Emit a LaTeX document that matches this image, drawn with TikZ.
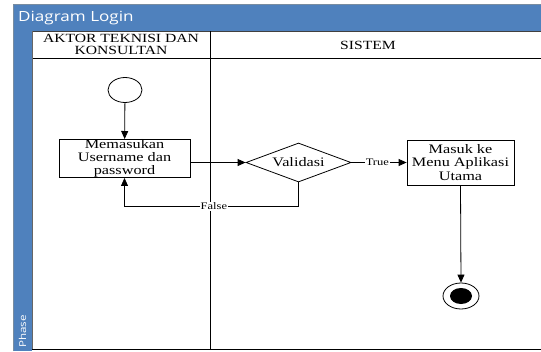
\documentclass[tikz,border=0pt]{standalone}
\usepackage{fontspec}
\setmainfont{Liberation Serif}[FakeStretch=1.25]
\newfontfamily\titlefont{Open Sans}[FakeStretch=1.22]
\usetikzlibrary{shapes.geometric,arrows.meta}
\definecolor{poolblue}{RGB}{79,129,189}
\definecolor{pooledge}{RGB}{120,140,160}
\tikzset{
  flow/.style={draw=black, line width=0.8pt, -{Triangle[length=8pt,width=7pt]}},
  actbox/.style={draw=black, line width=0.8pt, fill=white, align=center,
    inner sep=0pt, font=\fontsize{13}{13.2}\selectfont},
  lanetitle/.style={align=center, inner sep=0pt, font=\fontsize{12.5}{12.8}\selectfont},
  guard/.style={fill=white, inner sep=1pt, font=\fontsize{10}{10}\selectfont}
}
\begin{document}
\begin{tikzpicture}[x=1pt,y=-1pt]
\useasboundingbox (0,0) rectangle (541,351);
% pool: title bar and phase strip
\fill[poolblue] (13,4) rectangle (541,31);
\fill[poolblue] (13,31) rectangle (32,351);
\draw[pooledge, line width=0.6pt] (13,351) -- (13,4) -- (541,4);
\draw[black!75, line width=0.8pt] (32,31) -- (541,31);
\node[anchor=west, text=white, inner sep=0pt, font=\titlefont\fontsize{14}{14}\selectfont] (title) at (18,18) {Diagram Login};
\node[rotate=90, anchor=west, text=white, inner sep=0pt, font=\titlefont\fontsize{9.5}{9.5}\selectfont] (phase) at (22.5,348) {Phase};
% lanes
\fill[white] (32,31.5) rectangle (541,349);
\draw[black, line width=0.8pt] (32,58) -- (541,58);
\draw[black, line width=0.8pt] (32,349) -- (541,349);
\draw[black, line width=0.8pt] (210,31) -- (210,349);
\draw[black!60, line width=0.5pt] (32,31) -- (32,349);
\node[lanetitle] (lane1) at (121,44.5) {AKTOR TEKNISI DAN\\KONSULTAN};
\node[lanetitle] (lane2) at (368,45) {SISTEM};
% activity nodes
\node[ellipse, draw=black, line width=0.8pt, fill=white, minimum width=34pt, minimum height=25pt, inner sep=0pt] (start) at (125,90) {};
\node[actbox, minimum width=131pt, minimum height=37pt] (input) at (124.5,158.5) {Memasukan\\Username dan\\password};
\node[diamond, draw=black, line width=0.8pt, fill=white, aspect=2.7, minimum width=105pt, minimum height=39pt, inner sep=0pt, font=\fontsize{13}{13}\selectfont] (valid) at (298.5,162.5) {Validasi};
\node[actbox, minimum width=107pt, minimum height=45pt] (menu) at (460.5,162.5) {Masuk ke\\Menu Aplikasi\\Utama};
\node[ellipse, draw=black, line width=0.8pt, fill=white, minimum width=36pt, minimum height=26pt, inner sep=0pt] (stop) at (461,296) {};
\node[ellipse, fill=black, minimum width=22pt, minimum height=16pt, inner sep=0pt] (stopdot) at (461,296) {};
% flows
\draw[flow] (start) -- (input);
\draw[flow] (input.east |- valid.west) -- (valid.west);
\draw[flow] (valid.east) -- node[guard, pos=0.47] {True} (menu.west);
\draw[flow] (valid.south) -- ++(0,24) -| node[guard, pos=0.243] {False} (input.south);
\draw[flow] (menu.south) -- (stop.north);
\end{tikzpicture}
\end{document}
